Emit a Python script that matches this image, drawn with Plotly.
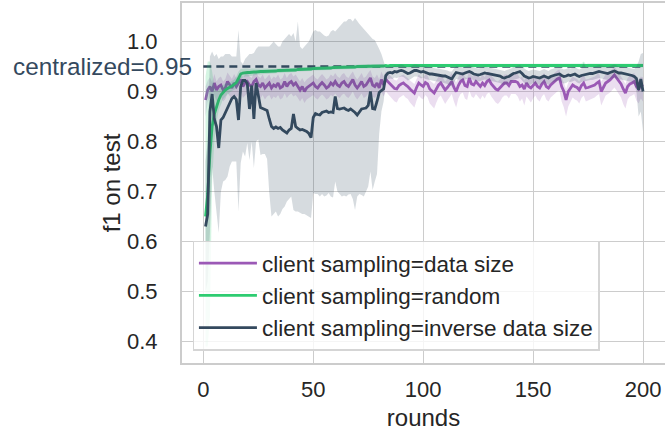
import plotly.graph_objects as go

ROUNDS = list(range(1, 201))
CENTRALIZED = 0.95

# client sampling = data size (purple)
DSZ = [
    0.883, 0.903, 0.910, 0.900, 0.917, 0.903, 0.910, 0.913, 0.903, 0.907,
    0.920, 0.913, 0.907, 0.917, 0.910, 0.917, 0.924, 0.910, 0.917, 0.920,
    0.913, 0.910, 0.920, 0.924, 0.913, 0.910, 0.917, 0.907, 0.913, 0.917,
    0.907, 0.913, 0.910, 0.917, 0.907, 0.910, 0.920, 0.910, 0.917, 0.920,
    0.913, 0.917, 0.910, 0.903, 0.910, 0.900, 0.907, 0.910, 0.913, 0.917,
    0.910, 0.907, 0.913, 0.918, 0.913, 0.907, 0.910, 0.917, 0.913, 0.920,
    0.913, 0.910, 0.917, 0.920, 0.913, 0.910, 0.917, 0.924, 0.913, 0.907,
    0.913, 0.920, 0.910, 0.913, 0.920, 0.927, 0.913, 0.910, 0.917, 0.907,
    0.924, 0.913, 0.924, 0.920, 0.915, 0.910, 0.906, 0.905, 0.912, 0.915,
    0.917, 0.913, 0.910, 0.905, 0.900, 0.897, 0.908, 0.917, 0.913, 0.910,
    0.918, 0.915, 0.905, 0.900, 0.897, 0.905, 0.913, 0.917, 0.910, 0.903,
    0.908, 0.915, 0.920, 0.908, 0.900, 0.912, 0.920, 0.923, 0.912, 0.910,
    0.927, 0.915, 0.913, 0.920, 0.915, 0.910, 0.917, 0.912, 0.920, 0.923,
    0.915, 0.910, 0.905, 0.903, 0.907, 0.913, 0.917, 0.917, 0.912, 0.920,
    0.920, 0.920, 0.918, 0.910, 0.913, 0.905, 0.917, 0.910, 0.907, 0.912,
    0.917, 0.910, 0.907, 0.915, 0.920, 0.910, 0.907, 0.913, 0.917, 0.922,
    0.925, 0.927, 0.910, 0.900, 0.883, 0.900, 0.907, 0.913, 0.910, 0.908,
    0.903, 0.912, 0.917, 0.907, 0.908, 0.910, 0.912, 0.913, 0.917, 0.920,
    0.900, 0.910, 0.917, 0.920, 0.923, 0.928, 0.933, 0.927, 0.920, 0.915,
    0.905, 0.897, 0.910, 0.915, 0.917, 0.920, 0.910, 0.905, 0.913, 0.910,
]
DSZ_LO = [
    0.850, 0.878, 0.888, 0.880, 0.893, 0.880, 0.888, 0.890, 0.880, 0.885,
    0.897, 0.890, 0.885, 0.893, 0.887, 0.893, 0.900, 0.887, 0.893, 0.897,
    0.890, 0.887, 0.897, 0.900, 0.890, 0.886, 0.893, 0.884, 0.890, 0.893,
    0.884, 0.890, 0.887, 0.893, 0.884, 0.887, 0.896, 0.887, 0.893, 0.896,
    0.890, 0.893, 0.887, 0.880, 0.887, 0.877, 0.884, 0.887, 0.890, 0.893,
    0.887, 0.884, 0.890, 0.894, 0.890, 0.884, 0.887, 0.893, 0.890, 0.896,
    0.890, 0.887, 0.893, 0.896, 0.890, 0.887, 0.893, 0.900, 0.890, 0.884,
    0.890, 0.896, 0.887, 0.890, 0.896, 0.903, 0.890, 0.887, 0.893, 0.884,
    0.900, 0.890, 0.900, 0.896, 0.890, 0.885, 0.880, 0.878, 0.887, 0.890,
    0.893, 0.888, 0.885, 0.878, 0.872, 0.868, 0.882, 0.892, 0.887, 0.884,
    0.893, 0.888, 0.876, 0.870, 0.866, 0.878, 0.888, 0.892, 0.884, 0.875,
    0.882, 0.890, 0.895, 0.880, 0.868, 0.886, 0.895, 0.898, 0.886, 0.883,
    0.902, 0.890, 0.887, 0.895, 0.890, 0.884, 0.892, 0.886, 0.895, 0.898,
    0.890, 0.884, 0.878, 0.875, 0.880, 0.888, 0.892, 0.892, 0.886, 0.895,
    0.895, 0.895, 0.890, 0.880, 0.886, 0.872, 0.890, 0.883, 0.878, 0.886,
    0.892, 0.884, 0.880, 0.890, 0.895, 0.884, 0.880, 0.888, 0.892, 0.897,
    0.900, 0.902, 0.880, 0.868, 0.850, 0.870, 0.880, 0.888, 0.884, 0.882,
    0.876, 0.887, 0.892, 0.880, 0.882, 0.884, 0.887, 0.888, 0.892, 0.895,
    0.872, 0.884, 0.892, 0.895, 0.898, 0.903, 0.908, 0.902, 0.895, 0.888,
    0.875, 0.866, 0.884, 0.890, 0.892, 0.895, 0.882, 0.876, 0.886, 0.880,
]
DSZ_HI = [
    0.910, 0.922, 0.928, 0.918, 0.935, 0.920, 0.927, 0.930, 0.920, 0.925,
    0.938, 0.930, 0.925, 0.935, 0.927, 0.934, 0.940, 0.927, 0.934, 0.938,
    0.930, 0.927, 0.937, 0.940, 0.930, 0.927, 0.934, 0.924, 0.930, 0.934,
    0.924, 0.930, 0.927, 0.934, 0.924, 0.927, 0.937, 0.927, 0.934, 0.937,
    0.930, 0.934, 0.927, 0.920, 0.927, 0.918, 0.924, 0.927, 0.930, 0.934,
    0.927, 0.924, 0.930, 0.935, 0.930, 0.924, 0.927, 0.934, 0.930, 0.937,
    0.930, 0.927, 0.934, 0.937, 0.930, 0.927, 0.934, 0.940, 0.930, 0.924,
    0.930, 0.937, 0.927, 0.930, 0.937, 0.943, 0.930, 0.927, 0.934, 0.924,
    0.940, 0.930, 0.940, 0.937, 0.932, 0.927, 0.923, 0.922, 0.929, 0.932,
    0.934, 0.930, 0.927, 0.922, 0.918, 0.915, 0.925, 0.934, 0.930, 0.927,
    0.935, 0.932, 0.922, 0.918, 0.915, 0.922, 0.930, 0.934, 0.927, 0.920,
    0.925, 0.932, 0.937, 0.925, 0.918, 0.929, 0.937, 0.940, 0.929, 0.927,
    0.943, 0.932, 0.930, 0.937, 0.932, 0.927, 0.934, 0.929, 0.937, 0.940,
    0.932, 0.927, 0.922, 0.920, 0.924, 0.930, 0.934, 0.934, 0.929, 0.937,
    0.937, 0.937, 0.935, 0.927, 0.930, 0.922, 0.934, 0.927, 0.924, 0.929,
    0.934, 0.927, 0.924, 0.932, 0.937, 0.927, 0.924, 0.930, 0.934, 0.939,
    0.942, 0.944, 0.927, 0.918, 0.905, 0.918, 0.924, 0.930, 0.927, 0.925,
    0.920, 0.929, 0.934, 0.924, 0.925, 0.927, 0.929, 0.930, 0.934, 0.937,
    0.920, 0.927, 0.934, 0.937, 0.940, 0.945, 0.950, 0.944, 0.937, 0.932,
    0.923, 0.915, 0.927, 0.932, 0.934, 0.937, 0.928, 0.923, 0.930, 0.928,
]

# client sampling = random (green)
RND = [
    0.650, 0.695, 0.775, 0.830, 0.855, 0.870, 0.883, 0.893, 0.899, 0.903,
    0.906, 0.908, 0.911, 0.914, 0.918, 0.926, 0.935, 0.937, 0.938, 0.938,
    0.938, 0.939, 0.939, 0.939, 0.940, 0.940, 0.940, 0.940, 0.940, 0.941,
    0.941, 0.941, 0.941, 0.942, 0.942, 0.942, 0.942, 0.943, 0.942, 0.943,
    0.943, 0.943, 0.944, 0.944, 0.944, 0.945, 0.944, 0.945, 0.945, 0.946,
    0.946, 0.946, 0.946, 0.947, 0.946, 0.947, 0.947, 0.947, 0.948, 0.948,
    0.948, 0.948, 0.948, 0.949, 0.948, 0.949, 0.949, 0.949, 0.949, 0.950,
    0.950, 0.950, 0.950, 0.950, 0.951, 0.950, 0.951, 0.951, 0.951, 0.951,
    0.951, 0.951, 0.952, 0.951, 0.952, 0.952, 0.952, 0.951, 0.952, 0.952,
    0.952, 0.952, 0.952, 0.952, 0.951, 0.952, 0.952, 0.952, 0.952, 0.952,
    0.952, 0.951, 0.952, 0.952, 0.952, 0.952, 0.952, 0.952, 0.951, 0.952,
    0.952, 0.952, 0.952, 0.952, 0.952, 0.952, 0.952, 0.951, 0.952, 0.952,
    0.952, 0.952, 0.952, 0.952, 0.952, 0.952, 0.952, 0.952, 0.952, 0.952,
    0.952, 0.952, 0.951, 0.952, 0.952, 0.952, 0.952, 0.952, 0.952, 0.952,
    0.952, 0.952, 0.952, 0.952, 0.952, 0.952, 0.952, 0.952, 0.952, 0.952,
    0.952, 0.952, 0.952, 0.951, 0.952, 0.952, 0.952, 0.952, 0.952, 0.952,
    0.952, 0.952, 0.952, 0.952, 0.952, 0.952, 0.952, 0.952, 0.952, 0.952,
    0.952, 0.952, 0.952, 0.951, 0.952, 0.952, 0.952, 0.952, 0.952, 0.952,
    0.952, 0.952, 0.952, 0.952, 0.952, 0.952, 0.952, 0.952, 0.952, 0.952,
    0.952, 0.952, 0.952, 0.952, 0.952, 0.952, 0.952, 0.952, 0.952, 0.952,
]
RND_LO = [
    0.390, 0.390, 0.450, 0.720, 0.800, 0.840, 0.862, 0.876, 0.885, 0.890,
    0.895, 0.898, 0.901, 0.904, 0.906, 0.912, 0.925, 0.928, 0.930, 0.930,
    0.931, 0.932, 0.932, 0.933, 0.934, 0.934, 0.935, 0.935, 0.935, 0.936,
    0.936, 0.936, 0.937, 0.937, 0.937, 0.938, 0.938, 0.938, 0.938, 0.939,
    0.939, 0.939, 0.940, 0.940, 0.940, 0.941, 0.940, 0.941, 0.941, 0.942,
    0.942, 0.942, 0.942, 0.943, 0.942, 0.943, 0.943, 0.943, 0.944, 0.944,
    0.944, 0.944, 0.944, 0.945, 0.944, 0.945, 0.945, 0.945, 0.945, 0.946,
    0.946, 0.946, 0.946, 0.946, 0.947, 0.946, 0.947, 0.947, 0.947, 0.947,
    0.947, 0.947, 0.948, 0.947, 0.948, 0.948, 0.948, 0.947, 0.948, 0.948,
    0.948, 0.948, 0.948, 0.948, 0.947, 0.948, 0.948, 0.948, 0.948, 0.948,
    0.948, 0.947, 0.948, 0.948, 0.948, 0.948, 0.948, 0.948, 0.947, 0.948,
    0.948, 0.948, 0.948, 0.948, 0.948, 0.948, 0.948, 0.947, 0.948, 0.948,
    0.948, 0.948, 0.948, 0.948, 0.948, 0.948, 0.948, 0.948, 0.948, 0.948,
    0.948, 0.948, 0.947, 0.948, 0.948, 0.948, 0.948, 0.948, 0.948, 0.948,
    0.948, 0.948, 0.948, 0.948, 0.948, 0.948, 0.948, 0.948, 0.948, 0.948,
    0.948, 0.948, 0.948, 0.947, 0.948, 0.948, 0.948, 0.948, 0.948, 0.948,
    0.948, 0.948, 0.948, 0.948, 0.948, 0.948, 0.948, 0.948, 0.948, 0.948,
    0.948, 0.948, 0.948, 0.947, 0.948, 0.948, 0.948, 0.948, 0.948, 0.948,
    0.948, 0.948, 0.948, 0.948, 0.948, 0.948, 0.948, 0.948, 0.948, 0.948,
    0.948, 0.948, 0.948, 0.948, 0.948, 0.948, 0.948, 0.948, 0.948, 0.948,
]
RND_HI = [
    0.930, 0.960, 0.960, 0.940, 0.910, 0.900, 0.904, 0.910, 0.913, 0.916,
    0.917, 0.918, 0.921, 0.924, 0.930, 0.940, 0.945, 0.946, 0.946, 0.946,
    0.945, 0.946, 0.946, 0.945, 0.946, 0.946, 0.945, 0.945, 0.945, 0.946,
    0.945, 0.945, 0.945, 0.946, 0.946, 0.946, 0.946, 0.947, 0.946, 0.947,
    0.947, 0.947, 0.948, 0.948, 0.948, 0.949, 0.948, 0.949, 0.949, 0.950,
    0.950, 0.950, 0.950, 0.951, 0.950, 0.951, 0.951, 0.951, 0.952, 0.952,
    0.952, 0.952, 0.952, 0.953, 0.952, 0.953, 0.953, 0.953, 0.953, 0.954,
    0.954, 0.954, 0.954, 0.954, 0.955, 0.954, 0.955, 0.955, 0.955, 0.955,
    0.955, 0.955, 0.956, 0.955, 0.956, 0.956, 0.956, 0.955, 0.956, 0.956,
    0.956, 0.956, 0.956, 0.956, 0.955, 0.956, 0.956, 0.956, 0.956, 0.956,
    0.956, 0.955, 0.956, 0.956, 0.956, 0.956, 0.956, 0.956, 0.955, 0.956,
    0.956, 0.956, 0.956, 0.956, 0.956, 0.956, 0.956, 0.955, 0.956, 0.956,
    0.956, 0.956, 0.956, 0.956, 0.956, 0.956, 0.956, 0.956, 0.956, 0.956,
    0.956, 0.956, 0.955, 0.956, 0.956, 0.956, 0.956, 0.956, 0.956, 0.956,
    0.956, 0.956, 0.956, 0.956, 0.956, 0.956, 0.956, 0.956, 0.956, 0.956,
    0.956, 0.956, 0.956, 0.955, 0.956, 0.956, 0.956, 0.956, 0.956, 0.956,
    0.956, 0.956, 0.956, 0.956, 0.956, 0.956, 0.956, 0.956, 0.956, 0.956,
    0.956, 0.956, 0.960, 0.955, 0.956, 0.956, 0.956, 0.956, 0.956, 0.956,
    0.956, 0.956, 0.956, 0.956, 0.956, 0.956, 0.956, 0.956, 0.956, 0.956,
    0.956, 0.956, 0.956, 0.956, 0.956, 0.956, 0.956, 0.956, 0.956, 0.956,
]

# client sampling = inverse data size (dark)
INV = [
    0.630, 0.655, 0.860, 0.895, 0.845, 0.830, 0.787, 0.843, 0.848, 0.857,
    0.866, 0.878, 0.886, 0.890, 0.884, 0.843, 0.910, 0.922, 0.922, 0.916,
    0.865, 0.912, 0.845, 0.917, 0.890, 0.868, 0.866, 0.864, 0.862, 0.845,
    0.830, 0.826, 0.829, 0.826, 0.828, 0.823, 0.820, 0.817, 0.823, 0.826,
    0.855, 0.830, 0.826, 0.823, 0.824, 0.822, 0.820, 0.816, 0.808, 0.848,
    0.856, 0.854, 0.853, 0.858, 0.860, 0.861, 0.858, 0.859, 0.858, 0.890,
    0.866, 0.865, 0.866, 0.867, 0.864, 0.862, 0.865, 0.862, 0.858, 0.853,
    0.860, 0.865, 0.866, 0.867, 0.872, 0.900, 0.866, 0.865, 0.880, 0.898,
    0.902, 0.905, 0.932, 0.937, 0.938, 0.937, 0.940, 0.939, 0.941, 0.942,
    0.941, 0.938, 0.936, 0.937, 0.940, 0.942, 0.942, 0.941, 0.939, 0.940,
    0.938, 0.937, 0.935, 0.935, 0.934, 0.933, 0.933, 0.932, 0.931, 0.931,
    0.929, 0.926, 0.925, 0.932, 0.938, 0.937, 0.936, 0.935, 0.937, 0.939,
    0.940, 0.938, 0.935, 0.934, 0.933, 0.934, 0.936, 0.937, 0.936, 0.935,
    0.935, 0.934, 0.933, 0.932, 0.931, 0.928, 0.927, 0.929, 0.930, 0.933,
    0.936, 0.937, 0.939, 0.940, 0.936, 0.931, 0.929, 0.927, 0.928, 0.930,
    0.929, 0.928, 0.927, 0.929, 0.931, 0.929, 0.927, 0.930, 0.932, 0.933,
    0.934, 0.935, 0.932, 0.930, 0.931, 0.933, 0.932, 0.934, 0.935, 0.932,
    0.930, 0.932, 0.933, 0.935, 0.935, 0.936, 0.936, 0.937, 0.938, 0.940,
    0.939, 0.938, 0.937, 0.936, 0.938, 0.940, 0.941, 0.939, 0.937, 0.937,
    0.936, 0.936, 0.935, 0.934, 0.932, 0.930, 0.926, 0.903, 0.925, 0.900,
]
INV_LO = [
    0.500, 0.520, 0.620, 0.750, 0.700, 0.660, 0.617, 0.700, 0.720, 0.723,
    0.730, 0.750, 0.760, 0.760, 0.760, 0.660, 0.757, 0.780, 0.770, 0.797,
    0.763, 0.800, 0.747, 0.800, 0.804, 0.773, 0.775, 0.775, 0.765, 0.697,
    0.650, 0.655, 0.660, 0.650, 0.655, 0.665, 0.670, 0.680, 0.685, 0.690,
    0.663, 0.660, 0.660, 0.658, 0.655, 0.655, 0.652, 0.650, 0.647, 0.697,
    0.695, 0.695, 0.690, 0.695, 0.690, 0.692, 0.697, 0.690, 0.688, 0.720,
    0.700, 0.695, 0.690, 0.692, 0.690, 0.694, 0.695, 0.685, 0.663, 0.690,
    0.695, 0.693, 0.690, 0.700, 0.710, 0.740, 0.703, 0.720, 0.735, 0.816,
    0.860, 0.880, 0.918, 0.924, 0.926, 0.925, 0.928, 0.927, 0.929, 0.930,
    0.929, 0.925, 0.922, 0.924, 0.928, 0.930, 0.930, 0.929, 0.926, 0.928,
    0.925, 0.924, 0.922, 0.922, 0.921, 0.920, 0.920, 0.919, 0.918, 0.917,
    0.915, 0.912, 0.910, 0.918, 0.925, 0.924, 0.923, 0.922, 0.924, 0.926,
    0.927, 0.925, 0.922, 0.921, 0.920, 0.921, 0.923, 0.924, 0.923, 0.922,
    0.922, 0.921, 0.920, 0.919, 0.917, 0.914, 0.913, 0.915, 0.917, 0.920,
    0.923, 0.924, 0.926, 0.927, 0.922, 0.917, 0.915, 0.913, 0.914, 0.917,
    0.916, 0.915, 0.913, 0.916, 0.918, 0.916, 0.913, 0.917, 0.919, 0.920,
    0.921, 0.922, 0.918, 0.916, 0.917, 0.920, 0.919, 0.921, 0.922, 0.918,
    0.916, 0.919, 0.920, 0.922, 0.922, 0.923, 0.923, 0.924, 0.925, 0.927,
    0.926, 0.925, 0.924, 0.923, 0.925, 0.927, 0.928, 0.926, 0.924, 0.924,
    0.923, 0.923, 0.922, 0.920, 0.918, 0.915, 0.900, 0.850, 0.860, 0.820,
]
INV_HI = [
    0.760, 0.800, 0.970, 0.980, 0.970, 0.975, 0.965, 0.970, 0.970, 0.975,
    0.975, 0.975, 0.970, 0.970, 0.970, 1.023, 0.960, 0.955, 0.965, 0.970,
    0.975, 0.975, 0.977, 0.985, 0.990, 0.990, 0.990, 0.990, 0.990, 0.990,
    0.995, 1.000, 0.995, 0.990, 0.990, 1.000, 1.005, 1.010, 1.015, 1.010,
    1.017, 1.000, 1.040, 0.990, 0.985, 0.990, 0.995, 1.000, 1.010, 1.020,
    1.023, 1.020, 1.020, 1.015, 1.012, 1.010, 1.012, 1.020, 1.023, 1.020,
    1.025, 1.030, 1.035, 1.040, 1.040, 1.045, 1.045, 1.040, 1.047, 1.040,
    1.035, 1.030, 1.025, 1.020, 1.015, 1.010, 1.005, 1.003, 0.995, 0.985,
    0.975, 0.960, 0.947, 0.950, 0.950, 0.949, 0.952, 0.951, 0.953, 0.954,
    0.953, 0.950, 0.949, 0.950, 0.952, 0.954, 0.954, 0.953, 0.951, 0.952,
    0.950, 0.949, 0.948, 0.948, 0.947, 0.946, 0.946, 0.945, 0.944, 0.944,
    0.942, 0.940, 0.940, 0.946, 0.951, 0.950, 0.949, 0.948, 0.950, 0.952,
    0.953, 0.951, 0.948, 0.947, 0.946, 0.947, 0.949, 0.950, 0.949, 0.948,
    0.948, 0.947, 0.946, 0.945, 0.944, 0.942, 0.941, 0.943, 0.944, 0.946,
    0.949, 0.950, 0.952, 0.953, 0.949, 0.945, 0.943, 0.941, 0.942, 0.944,
    0.943, 0.942, 0.941, 0.943, 0.945, 0.943, 0.941, 0.944, 0.946, 0.947,
    0.948, 0.949, 0.946, 0.944, 0.945, 0.947, 0.946, 0.948, 0.949, 0.946,
    0.944, 0.946, 0.958, 0.948, 0.948, 0.949, 0.949, 0.950, 0.951, 0.953,
    0.952, 0.951, 0.950, 0.949, 0.951, 0.953, 0.954, 0.952, 0.950, 0.950,
    0.949, 0.949, 0.948, 0.947, 0.946, 0.945, 0.950, 0.960, 0.975, 0.977,
]

SERIES = [
    ("client sampling=data size", DSZ, DSZ_LO, DSZ_HI, "#9b59b6", "rgba(155,89,182,0.2)"),
    ("client sampling=random", RND, RND_LO, RND_HI, "#2ecc71", "rgba(46,204,113,0.2)"),
    ("client sampling=inverse data size", INV, INV_LO, INV_HI, "#34495e", "rgba(52,73,94,0.2)"),
]

FONT = "Liberation Sans, Arial, Helvetica, sans-serif"
TXT = "#262626"
GRID = "#cccccc"

fig = go.Figure()
for name, mean, lo, hi, color, fill in SERIES:
    fig.add_trace(go.Scatter(x=ROUNDS, y=mean, mode="lines", name=name,
                             line=dict(color=color, width=2.8), legendgroup=name))
    fig.add_trace(go.Scatter(x=ROUNDS, y=hi, mode="lines", line=dict(width=0),
                             showlegend=False, hoverinfo="skip", legendgroup=name))
    fig.add_trace(go.Scatter(x=ROUNDS, y=lo, mode="lines", line=dict(width=0),
                             fill="tonexty", fillcolor=fill, showlegend=False,
                             hoverinfo="skip", legendgroup=name))

fig.add_shape(type="line", xref="x", yref="y", x0=0, x1=ROUNDS[-1],
              y0=CENTRALIZED, y1=CENTRALIZED, layer="between",
              line=dict(color="#34495e", width=2.6, dash="8px,5px"))
fig.add_annotation(x=-4.1, y=CENTRALIZED, xref="x", yref="y",
                   text=f"centralized={CENTRALIZED}", showarrow=False,
                   xanchor="right", yanchor="middle",
                   font=dict(family=FONT, size=24.3, color="#34495e"))

fig.update_layout(
    width=665, height=431,
    margin=dict(l=182, r=0, t=3, b=68),
    paper_bgcolor="white", plot_bgcolor="white",
    font=dict(family=FONT, size=22, color=TXT),
    showlegend=True,
    legend=dict(x=0.022, y=0.034, xanchor="left", yanchor="bottom",
                bgcolor="rgba(255,255,255,0.8)", bordercolor="#d5d5d5",
                borderwidth=1.3, font=dict(family=FONT, size=22.5, color=TXT),
                traceorder="grouped", tracegroupgap=0, itemwidth=58),
)
fig.update_xaxes(range=[-9.7, 210], tickvals=[0, 50, 100, 150, 200],
                 showgrid=True, gridcolor=GRID, gridwidth=1.3, zeroline=False,
                 showline=True, linecolor=GRID, linewidth=2, mirror=True,
                 ticks="", ticklabelstandoff=6,
                 tickfont=dict(family=FONT, size=22, color=TXT),
                 title=dict(text="rounds", standoff=8,
                            font=dict(family=FONT, size=24, color=TXT)))
fig.update_yaxes(range=[0.357, 1.077], tickvals=[0.4, 0.5, 0.6, 0.7, 0.8, 0.9, 1.0],
                 tickformat=".1f",
                 showgrid=True, gridcolor=GRID, gridwidth=1.3, zeroline=False,
                 showline=True, linecolor=GRID, linewidth=2, mirror=False,
                 ticks="", ticklabelstandoff=18,
                 tickfont=dict(family=FONT, size=22, color=TXT),
                 title=dict(text="f1 on test", standoff=0,
                            font=dict(family=FONT, size=24, color=TXT)))

fig.write_html("out.html", config={"displayModeBar": False},
               post_script="document.body.style.margin='0px';document.body.style.overflow='hidden';")
